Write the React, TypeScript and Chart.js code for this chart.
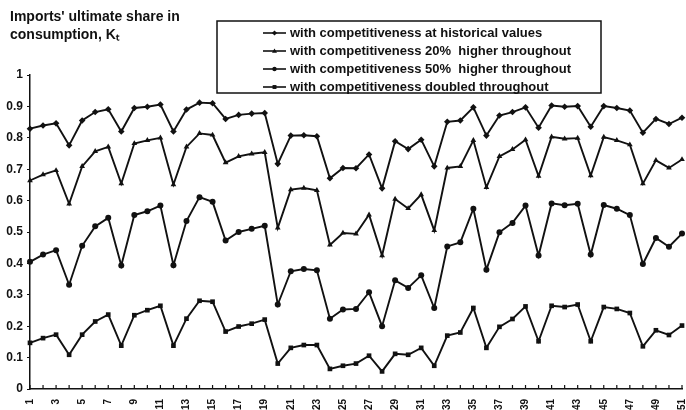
import React, { useEffect, useRef } from "react";
import { Chart, registerables } from "chart.js";

Chart.register(...registerables);

const periods: string[] = Array.from({ length: 51 }, (_, i) => String(i + 1));

const titleLines: string[] = ["Imports' ultimate share in", "consumption, K\u209C"];

const seriesNames: string[] = [
  "with competitiveness at historical values",
  "with competitiveness 20%  higher throughout",
  "with competitiveness 50%  higher throughout",
  "with competitiveness doubled throughout",
];

const historical: number[] = [
  0.829, 0.839, 0.846, 0.776, 0.855, 0.882, 0.891, 0.82, 0.895, 0.899,
  0.906, 0.82, 0.89, 0.912, 0.91, 0.86, 0.873, 0.877, 0.879, 0.717,
  0.807, 0.808, 0.805, 0.671, 0.704, 0.703, 0.747, 0.639, 0.789, 0.764,
  0.794, 0.709, 0.851, 0.855, 0.897, 0.807, 0.871, 0.882, 0.897, 0.832,
  0.903, 0.899, 0.901, 0.835, 0.901, 0.895, 0.887, 0.816, 0.86, 0.844, 0.864,
];

const higher20: number[] = [
  0.664, 0.683, 0.696, 0.59, 0.709, 0.757, 0.771, 0.654, 0.782, 0.792,
  0.8, 0.651, 0.771, 0.814, 0.809, 0.721, 0.741, 0.749, 0.754, 0.513,
  0.635, 0.64, 0.633, 0.459, 0.497, 0.494, 0.555, 0.425, 0.605, 0.575,
  0.619, 0.505, 0.704, 0.709, 0.792, 0.642, 0.741, 0.763, 0.794, 0.678,
  0.803, 0.797, 0.799, 0.68, 0.802, 0.792, 0.778, 0.654, 0.728, 0.704, 0.731,
];

const higher50: number[] = [
  0.405, 0.428, 0.442, 0.332, 0.456, 0.518, 0.545, 0.393, 0.554, 0.566,
  0.584, 0.394, 0.535, 0.611, 0.596, 0.473, 0.5, 0.51, 0.52, 0.269,
  0.375, 0.382, 0.378, 0.224, 0.253, 0.255, 0.308, 0.2, 0.346, 0.322,
  0.362, 0.258, 0.454, 0.467, 0.574, 0.38, 0.499, 0.529, 0.584, 0.425,
  0.591, 0.585, 0.59, 0.428, 0.586, 0.574, 0.554, 0.398, 0.481, 0.453, 0.495,
];

const doubled: number[] = [
  0.147, 0.162, 0.173, 0.109, 0.173, 0.215, 0.237, 0.138, 0.235, 0.251,
  0.265, 0.138, 0.224, 0.281, 0.278, 0.183, 0.199, 0.208, 0.221, 0.081,
  0.131, 0.14, 0.14, 0.064, 0.074, 0.081, 0.106, 0.056, 0.112, 0.109,
  0.131, 0.074, 0.17, 0.18, 0.258, 0.131, 0.198, 0.223, 0.263, 0.152,
  0.265, 0.261, 0.269, 0.152, 0.261, 0.255, 0.242, 0.136, 0.187, 0.172, 0.202,
];

const seriesValues: number[][] = [historical, higher20, higher50, doubled];
const pointStyles = ["rectRot", "triangle", "circle", "rect"];

const INK = "#111111";
const FONT = "'Liberation Sans', Arial, sans-serif";

function drawMarker(ctx: CanvasRenderingContext2D, style: string, x: number, y: number, r: number) {
  ctx.beginPath();
  if (style === "rectRot") {
    ctx.moveTo(x, y - r);
    ctx.lineTo(x + r, y);
    ctx.lineTo(x, y + r);
    ctx.lineTo(x - r, y);
    ctx.closePath();
  } else if (style === "triangle") {
    ctx.moveTo(x, y - r);
    ctx.lineTo(x + r * 0.95, y + r * 0.7);
    ctx.lineTo(x - r * 0.95, y + r * 0.7);
    ctx.closePath();
  } else if (style === "circle") {
    ctx.arc(x, y, r * 0.85, 0, Math.PI * 2);
  } else {
    ctx.rect(x - r * 0.75, y - r * 0.75, r * 1.5, r * 1.5);
  }
  ctx.fill();
}

const decorPlugin = {
  id: "decor",
  afterDraw(chart: any) {
    const ctx: CanvasRenderingContext2D = chart.ctx;
    ctx.save();
    // title
    ctx.fillStyle = INK;
    ctx.textAlign = "left";
    ctx.textBaseline = "middle";
    ctx.font = `bold 14px ${FONT}`;
    titleLines.forEach((t, i) => ctx.fillText(t, 10, 17 + i * 18));
    // inward tick marks on the category axis
    const xs = chart.scales.x;
    const bottom = chart.chartArea.bottom;
    ctx.strokeStyle = INK;
    ctx.lineWidth = 1.2;
    for (let i = 0; i < chart.data.labels.length; i++) {
      const px = xs.getPixelForTick(i);
      ctx.beginPath();
      ctx.moveTo(px, bottom);
      ctx.lineTo(px, bottom - 4);
      ctx.stroke();
    }
    // legend box
    const bx = 217, by = 21, bw = 384, bh = 72;
    ctx.lineWidth = 1.5;
    ctx.strokeRect(bx, by, bw, bh);
    ctx.font = `bold 13px ${FONT}`;
    chart.data.datasets.forEach((ds: any, i: number) => {
      const y = 33 + i * 18;
      ctx.lineWidth = 1.6;
      ctx.beginPath();
      ctx.moveTo(263, y);
      ctx.lineTo(286, y);
      ctx.stroke();
      drawMarker(ctx, ds.pointStyle, 274.5, y, 2.6);
      ctx.fillText(ds.label, 290, y + 0.5);
    });
    ctx.restore();
  },
};

export default function App() {
  const ref = useRef<HTMLCanvasElement | null>(null);

  useEffect(() => {
    document.body.style.margin = "0";
    document.body.style.overflow = "hidden";
    if (!ref.current) return;
    const chart = new Chart(ref.current, {
      type: "line",
      data: {
        labels: periods,
        datasets: seriesValues.map((vals, i) => ({
          label: seriesNames[i],
          data: vals,
          borderColor: INK,
          backgroundColor: INK,
          borderWidth: 1.9,
          pointStyle: pointStyles[i] as any,
          pointRadius: i === 2 ? 3 : 3.3,
          pointBorderWidth: 0,
          pointBackgroundColor: INK,
          tension: 0,
          fill: false,
        })),
      },
      options: {
        responsive: false,
        animation: false,
        devicePixelRatio: 1,
        layout: { padding: { left: 0, right: 0, top: 75, bottom: 0 } },
        plugins: {
          legend: { display: false },
          tooltip: { enabled: false },
          title: { display: false },
        },
        scales: {
          x: {
            type: "category",
            offset: false,
            grid: { display: false },
            border: { display: true, color: INK, width: 1.5 },
            ticks: {
              autoSkip: false,
              minRotation: 90,
              maxRotation: 90,
              padding: 2,
              color: INK,
              font: { family: FONT, size: 10, weight: "bold" },
              callback: (_v: any, i: number) => (i % 2 === 0 ? periods[i] : ""),
            },
            afterFit: (s: any) => {
              s.height = 21;
              s.paddingLeft = 0;
              s.paddingRight = 0;
            },
          },
          y: {
            min: 0,
            max: 1,
            grid: { drawOnChartArea: false, drawTicks: true, tickLength: 3, color: INK },
            border: { display: true, color: INK, width: 1.5 },
            ticks: {
              stepSize: 0.1,
              padding: 4,
              color: INK,
              font: { family: FONT, size: 12, weight: "bold" },
              callback: (v: any) => String(Number(Number(v).toFixed(1))),
            },
            afterFit: (s: any) => {
              s.width = 30;
              s.paddingTop = 0;
              s.paddingBottom = 0;
            },
          },
        },
      },
      plugins: [decorPlugin],
    });
    return () => chart.destroy();
  }, []);

  return (
    <div style={{ width: 686, height: 410, overflow: "hidden", background: "#fff" }}>
      <canvas ref={ref} width={686} height={410} style={{ display: "block" }} />
    </div>
  );
}
